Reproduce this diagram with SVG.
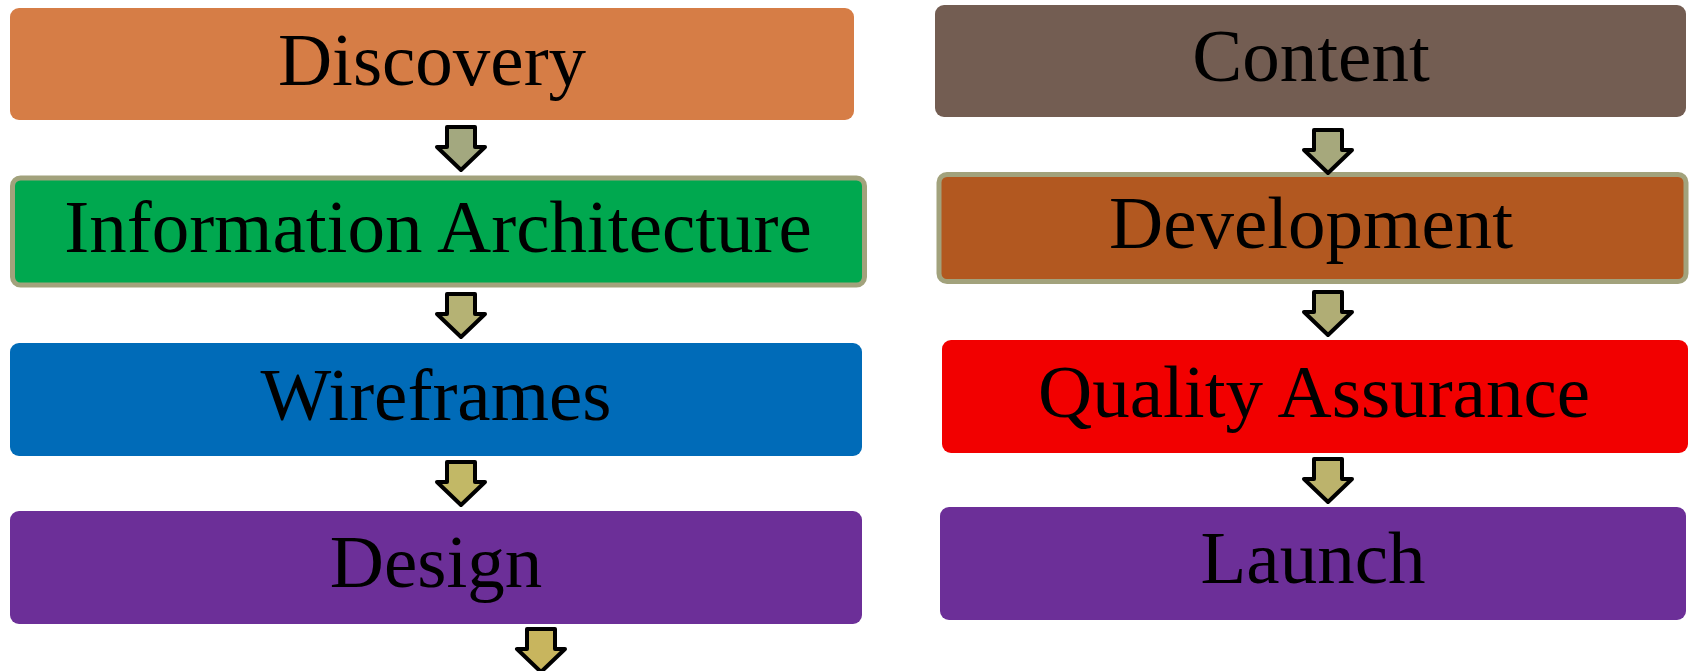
<svg xmlns="http://www.w3.org/2000/svg" width="1689" height="671" viewBox="0 0 1689 671">
  <style>
    .box { stroke: none; }
    .bordered { stroke: #a2a27c; stroke-width: 5; }
    .label { font-family: "Liberation Serif", "Times New Roman", serif; font-size: 75px; fill: #000; text-anchor: middle; }
    .arrow { stroke: #000; stroke-width: 4; stroke-linejoin: round; }
  </style>
  <defs>
    <path id="arr" d="M-14,0 H14 V20 H24 L0,43 L-24,20 H-14 Z"/>
  </defs>
  <rect width="1689" height="671" fill="#fff"/>

  <g id="node-discovery">
    <rect class="box" x="10" y="8" width="844" height="112" rx="9" fill="#d67d46"/>
    <text class="label" x="432" y="85">Discovery</text>
  </g>
  <g id="node-ia">
    <rect class="box bordered" x="12.5" y="178" width="852" height="107" rx="8" fill="#00a84f"/>
    <text class="label" x="438" y="252">Information Architecture</text>
  </g>
  <g id="node-wireframes">
    <rect class="box" x="10" y="343" width="852" height="113" rx="9" fill="#006bb8"/>
    <text class="label" x="436" y="420">Wireframes</text>
  </g>
  <g id="node-design">
    <rect class="box" x="10" y="511" width="852" height="113" rx="9" fill="#6c2f98"/>
    <text class="label" x="436" y="587">Design</text>
  </g>

  <g id="node-content">
    <rect class="box" x="935" y="5" width="751" height="112" rx="9" fill="#735d52"/>
    <text class="label" x="1311" y="81">Content</text>
  </g>
  <g id="node-development">
    <rect class="box bordered" x="939" y="174.5" width="747" height="107" rx="8" fill="#b25820"/>
    <text class="label" x="1311" y="248">Development</text>
  </g>
  <g id="node-qa">
    <rect class="box" x="942" y="340" width="746" height="113" rx="9" fill="#f20000"/>
    <text class="label" x="1314" y="417">Quality Assurance</text>
  </g>
  <g id="node-launch">
    <rect class="box" x="940" y="507" width="746" height="113" rx="9" fill="#6c2f98"/>
    <text class="label" x="1313" y="583">Launch</text>
  </g>

  <g id="connectors">
    <use href="#arr" class="arrow" fill="#a3a87f" transform="translate(461,127)"/>
    <use href="#arr" class="arrow" fill="#b5b274" transform="translate(461,294)"/>
    <use href="#arr" class="arrow" fill="#c2b866" transform="translate(461,462)"/>
    <use href="#arr" class="arrow" fill="#c8b55e" transform="translate(541,629)"/>
    <use href="#arr" class="arrow" fill="#a6a87c" transform="translate(1328,130)"/>
    <use href="#arr" class="arrow" fill="#b0ad75" transform="translate(1328,292)"/>
    <use href="#arr" class="arrow" fill="#bcb36c" transform="translate(1328,459)"/>
  </g>
</svg>
